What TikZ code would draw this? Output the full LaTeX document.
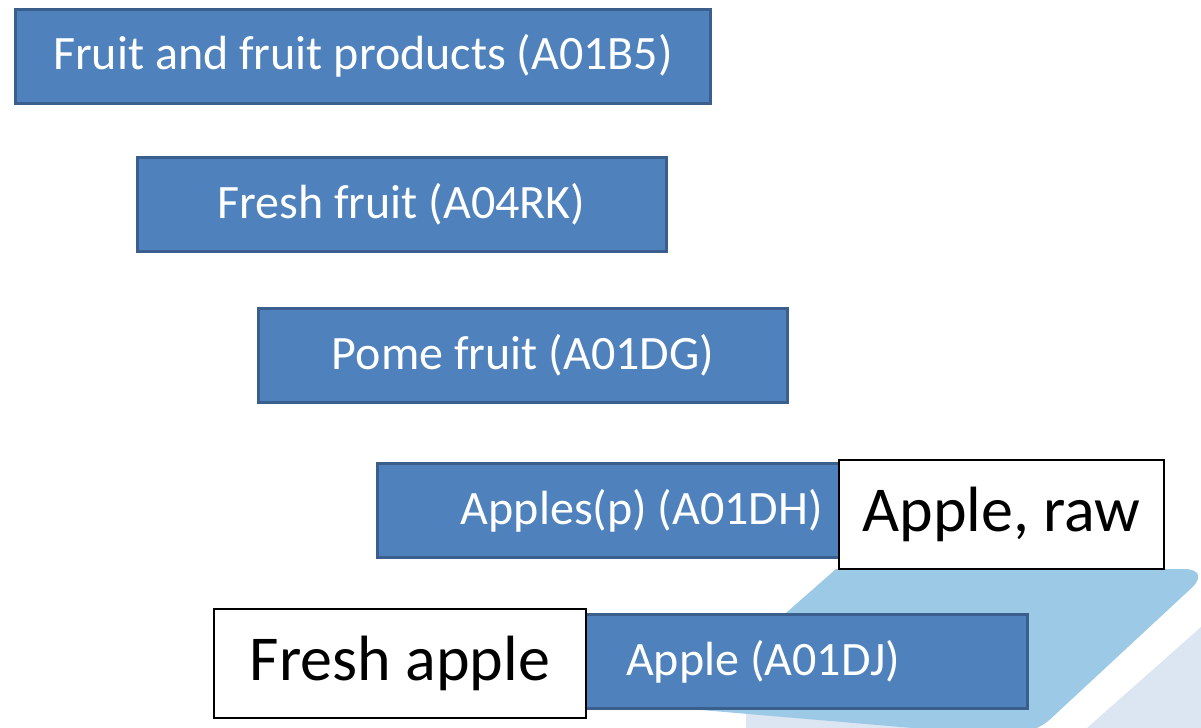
\documentclass[tikz,border=0pt]{standalone}
\usepackage{fontspec}
\setmainfont{Carlito}
\usepackage{xcolor}

\definecolor{boxblue}{HTML}{4F81BD}
\definecolor{boxedge}{HTML}{3A5F8C}
\definecolor{slabblue}{HTML}{9CC9E5}
\definecolor{slabpale}{HTML}{DCE6F2}

\begin{document}
\begin{tikzpicture}[x=0.5pt, y=-0.5pt]
    	\tikzstyle{level}=[draw=boxedge, fill=boxblue, line width=1.5pt, minimum width=264.5pt, minimum height=47pt, inner sep=0pt, text=white, font=\fontsize{24}{28}\selectfont]
    	\tikzstyle{label}=[draw=black, fill=white, line width=1pt, minimum height=54.5pt, inner sep=0pt, font=\fontsize{32}{38}\selectfont]
    	
    	\useasboundingbox (0,0) rectangle (1201,728);
    	
    	% Background slab
    	\fill [slabpale] (746,728) -- (746,705) -- (1040,705) -- (1030,728) -- cycle;
    	\fill [slabpale] (1087,728) -- (1201,627) -- (1201,728) -- cycle;
    	\fill [slabblue] (836,569) -- (1000,569) [rounded corners=14pt] -- (1212,569) -- (1030,738) [sharp corners] -- (678,708) -- cycle;
    	
    	% Hierarchy
    	\node at (363, 56) [level, minimum width=347.5pt] (level_1) {Fruit and fruit products (A01B5)};
    	\node at (401.5, 204) [level] (level_2) {Fresh fruit (A04RK)};
    	\node at (523, 355.5) [level] (level_3) {Pome fruit (A01DG)};
    	\node at (642, 510.5) [level] (level_4) {Apples(p) (A01DH)};
    	\node at (763, 661.5) [level] (level_5) {Apple (A01DJ)};
    	
    	% Names
    	\node at (1001.5, 514.5) [label, minimum width=162.5pt] (raw) {Apple, raw};
    	\node at (400, 663) [label, minimum width=186pt] (fresh) {Fresh apple};

    \end{tikzpicture}
\end{document}
